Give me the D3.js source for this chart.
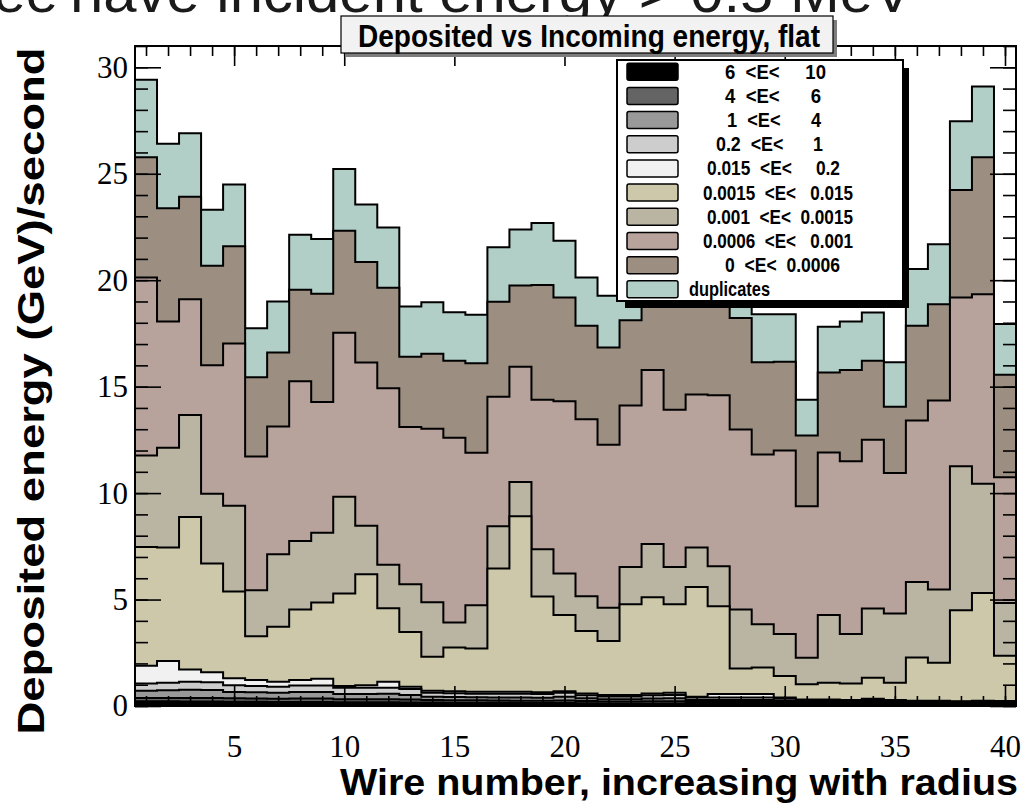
<!DOCTYPE html>
<html>
<head>
<meta charset="utf-8">
<script src="https://cdn.jsdelivr.net/npm/d3@7"></script>
<style>
  body { margin: 0; background: #fff; }
  svg { display: block; }
  text { font-family: "Liberation Sans", Arial, Helvetica, sans-serif; }
  .tick text { font-family: "Liberation Serif", "Times New Roman", serif; font-size: 31px; fill: #000; }
  .tick line { stroke: #000; stroke-width: 1.6; }
</style>
</head>
<body>
<div id="chart"></div>
<script>
// wire numbers 1..40
const wires = d3.range(1, 41);

// deposited energy (GeV/s) per wire, one array per incoming-energy slice (stack order, bottom first)
const e6to10 = [0.22,0.22,0.21,0.21,0.20,0.20,0.19,0.19,0.19,0.18, 0.18,0.18,0.17,0.16,0.15,0.15,0.15,0.14,0.14,0.14,
                0.13,0.12,0.12,0.12,0.12,0.11,0.11,0.11,0.11,0.10, 0.09,0.09,0.09,0.09,0.08,0.08,0.08,0.08,0.08,0.08];
const e4to6 = [0.16,0.16,0.16,0.16,0.16,0.15,0.15,0.16,0.16,0.14, 0.14,0.14,0.13,0.12,0.12,0.12,0.11,0.11,0.11,0.12,
               0.10,0.09,0.09,0.10,0.10,0.08,0.08,0.08,0.08,0.07, 0.06,0.06,0.06,0.06,0.06,0.05,0.05,0.05,0.05,0.05];
const e1to4 = [0.34,0.36,0.39,0.38,0.30,0.29,0.28,0.31,0.31,0.24, 0.24,0.26,0.22,0.16,0.15,0.14,0.14,0.15,0.14,0.18,
               0.13,0.11,0.11,0.13,0.14,0.09,0.09,0.09,0.09,0.07, 0.06,0.06,0.05,0.07,0.05,0.04,0.04,0.03,0.04,0.04];
const e02to1 = [0.34,0.35,0.38,0.37,0.32,0.30,0.28,0.30,0.30,0.30, 0.30,0.28,0.28,0.18,0.18,0.17,0.18,0.18,0.17,0.18,
                0.14,0.13,0.13,0.15,0.16,0.12,0.12,0.12,0.12,0.10, 0.07,0.07,0.06,0.06,0.05,0.05,0.05,0.04,0.05,0.04];
const e0015to02 = [0.83,1.02,0.58,0.47,0.32,0.28,0.24,0.26,0.32,0.08, 0.11,0.28,0.11,0.10,0.09,0.09,0.09,0.09,0.08,0.07,
                   0.09,0.07,0.07,0.09,0.10,0.04,0.16,0.16,0.16,0.06, 0.03,0.03,0.02,0.06,0.04,0.03,0.03,0.02,0.03,0.03];
const e00015to0015 = [5.58,5.34,7.16,5.10,4.08,2.06,2.58,3.31,3.58,4.34, 5.22,3.45,2.56,1.59,2.06,2.03,5.79,8.24,4.50,3.58,
                      2.93,2.53,4.26,4.52,4.16,5.15,4.13,1.20,1.25,1.01, 0.71,0.78,0.78,0.99,0.81,2.03,1.78,4.28,5.06,2.12];
const e0001to00015 = [4.30,4.68,4.79,3.28,4.03,2.16,3.41,3.22,3.28,4.55, 2.28,2.05,2.25,2.56,1.17,2.03,1.98,1.61,2.22,1.95,
                      1.64,1.56,1.75,2.50,1.75,1.85,1.87,2.77,2.03,1.97, 1.25,3.18,2.32,3.25,3.25,3.55,3.44,6.76,5.13,2.48];
const e00006to0001 = [8.36,5.93,5.43,6.03,7.62,6.28,6.00,7.50,6.14,7.70, 7.66,8.28,7.38,8.15,8.68,7.16,6.09,5.42,7.02,8.09,
                      8.31,7.66,7.58,8.17,7.38,7.19,8.04,8.46,7.97,8.62, 7.11,7.64,8.12,7.92,6.60,7.58,8.88,7.93,8.90,5.91];
const e0to00006 = [5.65,5.32,4.82,4.68,4.57,3.72,3.47,4.30,5.08,4.79, 4.73,4.72,3.31,3.53,3.62,4.21,4.46,3.81,5.39,4.88,
                   4.39,4.57,4.01,3.62,5.19,4.57,4.50,5.23,4.33,4.17, 3.32,3.76,4.28,3.72,3.12,4.45,4.52,5.05,6.44,4.81];
const duplicates = [3.64,3.03,2.98,2.63,2.90,2.30,2.40,2.58,2.58,2.90, 2.70,2.83,2.36,2.41,2.27,2.28,2.56,2.63,2.92,2.66,
                    2.27,2.43,2.20,2.10,2.00,2.10,2.00,2.20,2.26,2.23, 1.68,2.14,2.28,2.26,2.08,2.66,2.82,3.23,3.32,2.38];

const layerKeys = ["e6to10","e4to6","e1to4","e02to1","e0015to02","e00015to0015","e0001to00015","e00006to0001","e0to00006","duplicates"];
const layerValues = [e6to10, e4to6, e1to4, e02to1, e0015to02, e00015to0015, e0001to00015, e00006to0001, e0to00006, duplicates];
const legendLabels = ["6  <E<     10", "4  <E<      6", "1  <E<      4", "0.2  <E<      1", "0.015  <E<     0.2",
                      "0.0015  <E<   0.015", "0.001  <E<  0.0015", "0.0006  <E<   0.001", "0  <E<  0.0006", "duplicates"];
const layerColors = ["#000000","#646464","#999999","#cdcdcd","#f1f1f1","#cdc8aa","#bab5a2","#b8a39c","#9c8e80","#b1cfc7"];

const yMajorTicks = [0, 5, 10, 15, 20, 25, 30];
const xMajorTicks = [5, 10, 15, 20, 25, 30, 35, 40];

const titleText = "Deposited vs Incoming energy, flat";
const xTitle = "Wire number, increasing with radius";
const yTitle = "Deposited energy (GeV)/second";

// ---- layout ----
const W = 1032, H = 805;
const frame = {left: 135, right: 1016, top: 46, bottom: 706};
// [start x, width] of each legend label as it sits in the box
const legendTextSpan = [[725,101],[725,96],[727,94],[716,107],[707,133],[703,150],[707,146],[703,150],[725,115],[689,81]];

const svg = d3.select("#chart").append("svg").attr("width", W).attr("height", H);

const x = d3.scaleLinear().domain([0.5, 40.5]).range([frame.left, frame.right]);
const y = d3.scaleLinear().domain([0, 31]).range([frame.bottom, frame.top]);

// slide heading, cut off at the top of the picture
svg.append("text")
    .attr("x", 58).attr("y", 12)
    .attr("text-anchor", "end")
    .attr("font-size", 58).attr("fill", "#1a1a1a")
    .text("Three");
svg.append("text")
    .attr("x", 70).attr("y", 12)
    .attr("font-size", 58).attr("fill", "#1a1a1a")
    .attr("textLength", 843).attr("lengthAdjust", "spacingAndGlyphs")
    .text("have incident energy > 0.5 MeV");

// stacked histogram, drawn like THStack: tallest sum first, each filled from zero
const rows = wires.map((w, i) => {
    const r = {wire: w};
    layerKeys.forEach((k, j) => r[k] = layerValues[j][i]);
    return r;
});
const stacked = d3.stack().keys(layerKeys)(rows);

const area = d3.area()
    .x(p => x(p.x))
    .y0(y(0))
    .y1(p => y(p.v));

stacked.slice().reverse().forEach(layer => {
    const pts = [];
    layer.forEach(d => {
        pts.push({x: d.data.wire - 0.5, v: d[1]});
        pts.push({x: d.data.wire + 0.5, v: d[1]});
    });
    svg.append("path")
        .datum(pts)
        .attr("d", area)
        .attr("fill", layerColors[layer.index])
        .attr("stroke", "#000")
        .attr("stroke-width", 2)
        .attr("stroke-linejoin", "miter");
});

// axes, ROOT style: ticks pointing into the frame on all four sides
function addAxis(axis, tx, ty) {
    const g = svg.append("g").attr("transform", `translate(${tx},${ty})`).call(axis);
    g.select(".domain").remove();
    return g;
}
addAxis(d3.axisLeft(y).tickValues(d3.range(0, 32)).tickSize(-13).tickFormat(""), frame.left, 0);
addAxis(d3.axisLeft(y).tickValues(yMajorTicks).tickSize(-26).tickPadding(7).tickFormat(d3.format("d")), frame.left, 0);
addAxis(d3.axisRight(y).tickValues(d3.range(0, 32)).tickSize(-13).tickFormat(""), frame.right, 0);
addAxis(d3.axisRight(y).tickValues(yMajorTicks).tickSize(-26).tickFormat(""), frame.right, 0);
addAxis(d3.axisBottom(x).tickValues(wires).tickSize(-10).tickFormat(""), 0, frame.bottom);
addAxis(d3.axisBottom(x).tickValues(xMajorTicks).tickSize(-20).tickPadding(29).tickFormat(d3.format("d")), 0, frame.bottom);
addAxis(d3.axisTop(x).tickValues(wires).tickSize(-10).tickFormat(""), 0, frame.top);
addAxis(d3.axisTop(x).tickValues(xMajorTicks).tickSize(-20).tickFormat(""), 0, frame.top);

svg.append("rect")
    .attr("x", frame.left).attr("y", frame.top)
    .attr("width", frame.right - frame.left).attr("height", frame.bottom - frame.top)
    .attr("fill", "none").attr("stroke", "#000").attr("stroke-width", 2);

// axis titles
svg.append("text")
    .attr("x", 340).attr("y", 795)
    .attr("font-size", 37).attr("font-weight", "bold")
    .attr("textLength", 678).attr("lengthAdjust", "spacingAndGlyphs")
    .text(xTitle);
svg.append("text")
    .attr("transform", "translate(44,391) rotate(-90)")
    .attr("text-anchor", "middle")
    .attr("font-size", 37).attr("font-weight", "bold")
    .attr("textLength", 687).attr("lengthAdjust", "spacingAndGlyphs")
    .text(yTitle);

// title box
svg.append("rect").attr("x", 345).attr("y", 20).attr("width", 492).attr("height", 37).attr("fill", "#7d7d7d");
svg.append("rect").attr("x", 341).attr("y", 16).attr("width", 492).attr("height", 37)
    .attr("fill", "#f2f2f2").attr("stroke", "#000").attr("stroke-width", 1.2);
svg.append("text")
    .attr("x", 358).attr("y", 47)
    .attr("font-size", 31).attr("font-weight", "bold")
    .attr("textLength", 462).attr("lengthAdjust", "spacingAndGlyphs")
    .text(titleText);

// legend
const lg = svg.append("g");
lg.append("rect").attr("x", 625).attr("y", 68).attr("width", 284).attr("height", 240).attr("fill", "#000");
lg.append("rect").attr("x", 617).attr("y", 60).attr("width", 286).attr("height", 241)
    .attr("fill", "#fff").attr("stroke", "#000").attr("stroke-width", 2);

const rowY = i => 71.7 + i * 24.18;
const rowsLg = lg.selectAll("g.row").data(legendLabels).join("g").attr("class", "row");
rowsLg.append("rect")
    .attr("x", 627).attr("y", (d, i) => rowY(i) - 8.5)
    .attr("width", 51).attr("height", 17).attr("rx", 2)
    .attr("fill", (d, i) => layerColors[i])
    .attr("stroke", "#000").attr("stroke-width", 1.5);
rowsLg.append("text")
    .attr("x", (d, i) => legendTextSpan[i][0])
    .attr("y", (d, i) => rowY(i) + 7)
    .attr("font-size", 19.5).attr("font-weight", "bold")
    .attr("xml:space", "preserve").style("white-space", "pre")
    .attr("textLength", (d, i) => legendTextSpan[i][1]).attr("lengthAdjust", "spacingAndGlyphs")
    .text(d => d);
</script>
</body>
</html>
